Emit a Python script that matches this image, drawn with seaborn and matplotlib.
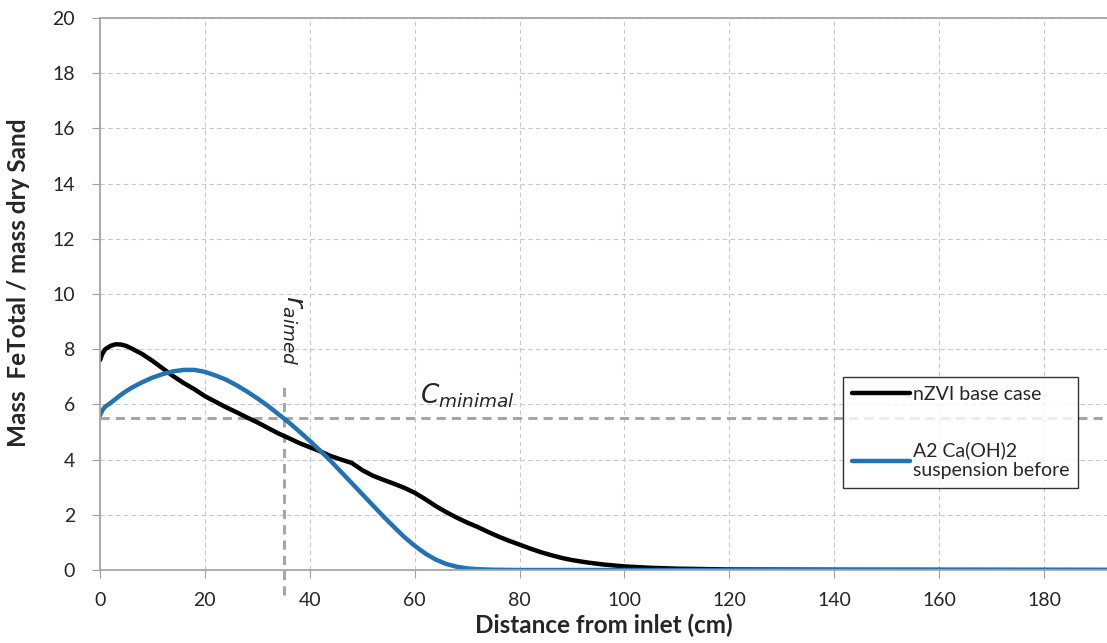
import numpy as np
import pandas as pd
import seaborn as sns
from matplotlib import pyplot as plt

# nZVI base case
x_base = [0, 0.5, 1, 2, 3, 4, 5, 6, 8, 10, 12, 14, 16, 18, 20, 22, 24, 26, 28, 30,
          32, 34, 36, 38, 40, 42, 44, 46, 48, 50, 52, 54, 56, 58, 60, 62, 64, 66, 68, 70,
          72, 74, 76, 78, 80, 82, 84, 86, 88, 90, 93, 96, 100, 105, 110, 120, 140, 192]
y_base = [7.6, 7.85, 8.0, 8.12, 8.18, 8.17, 8.12, 8.03, 7.83, 7.58, 7.3, 7.02, 6.77, 6.55, 6.3, 6.1, 5.9, 5.72, 5.53, 5.35,
          5.15, 4.95, 4.78, 4.6, 4.45, 4.3, 4.13, 4.0, 3.88, 3.62, 3.42, 3.27, 3.13, 2.98, 2.8, 2.57, 2.32, 2.1, 1.9, 1.72,
          1.56, 1.38, 1.21, 1.06, 0.92, 0.78, 0.65, 0.54, 0.44, 0.36, 0.27, 0.2, 0.13, 0.08, 0.05, 0.02, 0.01, 0.0]
# A2 Ca(OH)2 suspension before
x_ca = [0, 0.5, 1, 2, 3, 4, 5, 6, 8, 10, 12, 14, 16, 18, 20, 22, 24, 26, 28, 30,
        32, 34, 36, 38, 40, 42, 44, 46, 48, 50, 52, 54, 56, 58, 60, 62, 64, 66, 68, 70,
        72, 75, 80, 192]
y_ca = [5.6, 5.8, 5.92, 6.05, 6.2, 6.35, 6.48, 6.6, 6.8, 6.97, 7.1, 7.2, 7.25, 7.25, 7.18, 7.05, 6.9, 6.7, 6.47, 6.22,
        5.95, 5.65, 5.35, 5.02, 4.68, 4.32, 3.95, 3.55, 3.15, 2.75, 2.35, 1.95, 1.57, 1.2, 0.88, 0.6, 0.38, 0.22, 0.12, 0.06,
        0.03, 0.01, 0.0, 0.0]

r_aimed = 35
c_minimal = 5.5

df = pd.concat([
    pd.DataFrame({'x': x_base, 'y': y_base, 'case': 'nZVI base case'}),
    pd.DataFrame({'x': x_ca, 'y': y_ca, 'case': 'A2 Ca(OH)2\nsuspension before'}),
])

sns.set_style('white')
plt.rcParams['font.family'] = ['Lato', 'DejaVu Sans']

fig = plt.figure(figsize=(11.07, 6.43), dpi=100)
ax = fig.add_axes([0.0903, 0.1135, 0.9097, 0.8585])

sns.lineplot(data=df, x='x', y='y', hue='case', palette=['black', '#2272b4'],
             linewidth=3.2, ax=ax, sort=False, estimator=None)

ax.plot([r_aimed, r_aimed], [-0.9, 6.8], color='#a6a6a6', lw=2.2, ls=(0, (3, 2)), clip_on=False, zorder=1)
ax.axhline(c_minimal, color='#a6a6a6', lw=2.2, ls=(0, (3, 2)), zorder=1)

ax.text(r_aimed + 1.8, 8.7, r'$r_{aimed}$', rotation=270, fontsize=19,
        ha='center', va='center', family='DejaVu Sans')
ax.text(70, 5.8, r'$C_{minimal}$', fontsize=19, ha='center', va='bottom', family='DejaVu Sans')

ax.set_xlim(0, 192)
ax.set_ylim(0, 20)
ax.set_xticks(range(0, 181, 20))
ax.set_yticks(range(0, 21, 2))
ax.grid(True, ls=(0, (4, 3)), color='#c8c8c8', lw=0.8)
ax.tick_params(labelsize=14, length=6, color='#a0a0a0', direction='out', left=True, bottom=True)
ax.tick_params(axis='x', pad=10)
ax.tick_params(axis='y', pad=12)
ax.spines['right'].set_visible(False)
for s in ['left', 'bottom', 'top']:
    ax.spines[s].set_color('#a6a6a6')
    ax.spines[s].set_linewidth(1.3)

ax.set_xlabel('Distance from inlet (cm)', fontsize=17.5, fontweight='bold', labelpad=3)
ax.set_ylabel('Mass  FeTotal / mass dry Sand', fontsize=17.5, fontweight='bold', labelpad=14)
ax.yaxis.set_label_coords(-0.069, 0.52)

leg = ax.legend(loc='upper left', bbox_to_anchor=(0.738, 0.35), fontsize=14, frameon=True,
                fancybox=False, edgecolor='black', handlelength=3.0, handletextpad=0.15,
                labelspacing=2.0, borderpad=0.45, borderaxespad=0)
leg.get_frame().set_linewidth(1.0)

plt.savefig('out.png', dpi=100)
